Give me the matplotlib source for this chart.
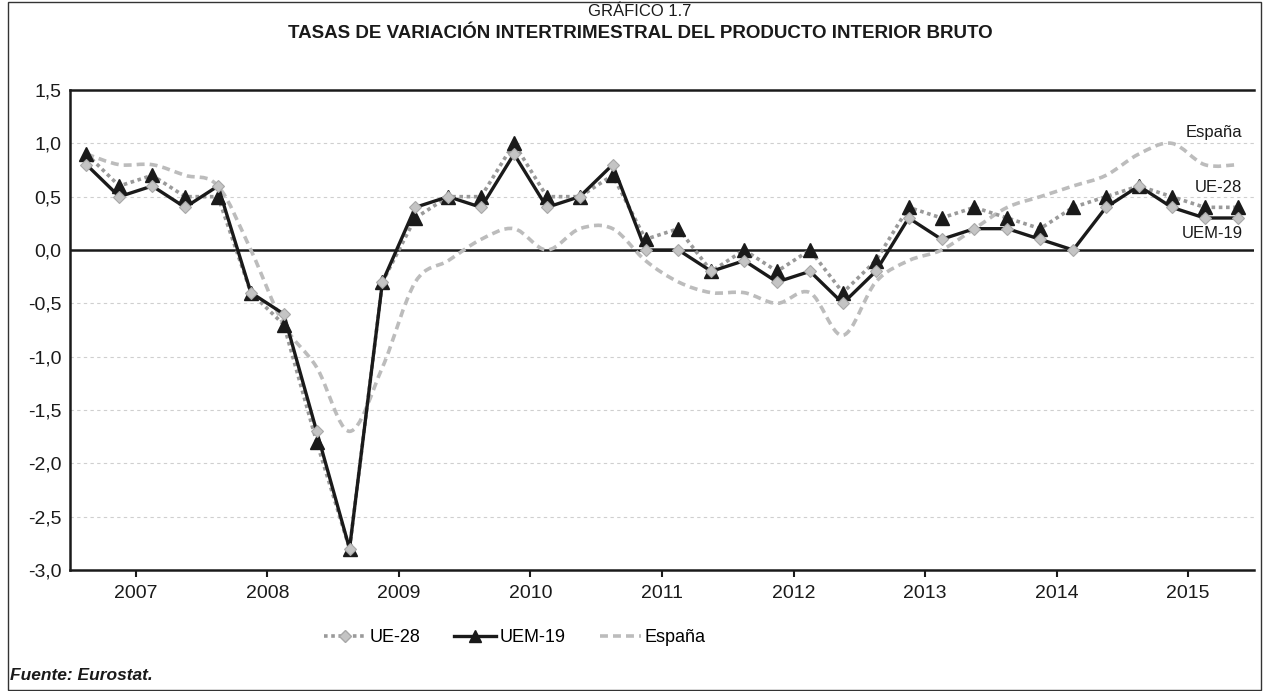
import numpy as np
import matplotlib
matplotlib.use("Agg")
import matplotlib.pyplot as plt
from matplotlib.path import Path
from matplotlib.patches import PathPatch, Rectangle
from matplotlib.lines import Line2D
from matplotlib.ticker import FuncFormatter, MultipleLocator

plt.rcParams['font.family'] = ['Liberation Sans', 'DejaVu Sans']

years = ['2007', '2008', '2009', '2010', '2011', '2012', '2013', '2014', '2015']

# diamond markers (UE-28)
ue28 = [0.8, 0.5, 0.6, 0.4, 0.6, -0.4, -0.6, -1.7,
        -2.8, -0.3, 0.4, 0.5, 0.4, 0.9, 0.4, 0.5,
        0.8, 0.0, 0.0, -0.2, -0.1, -0.3, -0.2, -0.5,
        -0.2, 0.3, 0.1, 0.2, 0.2, 0.1, 0.0, 0.4,
        0.6, 0.4, 0.3, 0.3]
# triangle markers (UEM-19)
uem19 = [0.9, 0.6, 0.7, 0.5, 0.5, -0.4, -0.7, -1.8,
         -2.8, -0.3, 0.3, 0.5, 0.5, 1.0, 0.5, 0.5,
         0.7, 0.1, 0.2, -0.2, 0.0, -0.2, 0.0, -0.4,
         -0.1, 0.4, 0.3, 0.4, 0.3, 0.2, 0.4, 0.5,
         0.6, 0.5, 0.4, 0.4]
espana = [0.9, 0.8, 0.8, 0.7, 0.6, 0.0, -0.7, -1.1,
          -1.7, -1.1, -0.3, -0.1, 0.1, 0.2, 0.0, 0.2,
          0.2, -0.1, -0.3, -0.4, -0.4, -0.5, -0.4, -0.8,
          -0.3, -0.1, 0.0, 0.2, 0.4, 0.5, 0.6, 0.7,
          0.9, 1.0, 0.8, 0.8]

W, H = 1268, 691
fig = plt.figure(figsize=(W / 100, H / 100), dpi=100)
ax = fig.add_axes([70 / W, 1 - 570 / H, (1254 - 70) / W, (570 - 90) / H])

x = np.arange(len(ue28))

GRAY_DOT = '#9a9a9a'
GRAY_DASH = '#bcbcbc'
BLACK = '#1a1a1a'

# España smoothed line (Catmull-Rom -> cubic Bezier)
pts = np.column_stack([x, espana]).astype(float)
verts = [tuple(pts[0])]
codes = [Path.MOVETO]
n = len(pts)
for i in range(n - 1):
    p0 = pts[i - 1] if i > 0 else pts[i]
    p1 = pts[i]
    p2 = pts[i + 1]
    p3 = pts[i + 2] if i + 2 < n else pts[i + 1]
    c1 = p1 + (p2 - p0) / 6.0
    c2 = p2 - (p3 - p1) / 6.0
    verts += [tuple(c1), tuple(c2), tuple(p2)]
    codes += [Path.CURVE4] * 3
esp_patch = PathPatch(Path(verts, codes), fill=False, edgecolor=GRAY_DASH,
                      lw=2.6, linestyle=(0, (2.2, 1.4)), capstyle='butt', zorder=3)
ax.add_patch(esp_patch)

ax.plot(x, uem19, color=GRAY_DOT, lw=2.6, linestyle=(0, (1, 1)),
        dash_capstyle='butt', zorder=4)
ax.plot(x, ue28, color=BLACK, lw=2.4, zorder=5, solid_joinstyle='miter')
ax.plot(x, uem19, linestyle='none', marker='^', ms=10, color=BLACK, zorder=6)
ax.plot(x, ue28, linestyle='none', marker='D', ms=6.5, markerfacecolor='#c4c4c4',
        markeredgecolor='#a8a8a8', markeredgewidth=0.8, zorder=7)

ax.axhline(0, color=BLACK, lw=1.8, zorder=2)

ax.set_xlim(-0.5, len(ue28) - 0.5)
ax.set_ylim(-3.0, 1.5)
ax.yaxis.set_major_locator(MultipleLocator(0.5))
ax.yaxis.set_major_formatter(FuncFormatter(lambda v, p: f"{v:.1f}".replace('.', ',')))
ax.set_xticks([1.5 + 4 * k for k in range(len(years))])
ax.set_xticklabels(years)
ax.grid(axis='y', color='#cfcfcf', linestyle=(0, (3, 3)), lw=0.8)
ax.set_axisbelow(True)

for s in ['top', 'left', 'bottom']:
    ax.spines[s].set_linewidth(1.8)
    ax.spines[s].set_color(BLACK)
ax.spines['right'].set_visible(False)
ax.tick_params(axis='y', length=0, pad=6, labelsize=14, colors=BLACK)
ax.tick_params(axis='x', length=5, width=1.5, pad=6, labelsize=14, colors=BLACK)

ax.text(35.15, 1.10, 'España', ha='right', va='center', fontsize=12, color=BLACK)
ax.text(35.15, 0.59, 'UE-28', ha='right', va='center', fontsize=12, color=BLACK)
ax.text(35.15, 0.15, 'UEM-19', ha='right', va='center', fontsize=12, color=BLACK)

fig.text(640 / W, 1 - 12 / H, 'GRÁFICO 1.7', ha='center', va='center', fontsize=12,
         color=BLACK)
fig.text(640 / W, 1 - 33 / H, 'TASAS DE VARIACIÓN INTERTRIMESTRAL DEL PRODUCTO INTERIOR BRUTO',
         ha='center', va='center', fontsize=13.5, fontweight='bold', color=BLACK)
fig.text(10 / W, 1 - 676 / H, 'Fuente: Eurostat.', ha='left', va='center', fontsize=12.5,
         fontweight='bold', fontstyle='italic', color=BLACK)

handles = [
    Line2D([], [], color=GRAY_DOT, lw=2.6, linestyle=(0, (1, 1)), marker='D', ms=6.5,
           markerfacecolor='#c4c4c4', markeredgecolor='#a8a8a8'),
    Line2D([], [], color=BLACK, lw=2.4, marker='^', ms=9),
    Line2D([], [], color=GRAY_DASH, lw=2.6, linestyle=(0, (2.2, 1.4))),
]
fig.legend(handles, ['UE-28', 'UEM-19', 'España'], loc='center',
           bbox_to_anchor=(515 / W, 1 - 638 / H), ncol=3, frameon=False,
           fontsize=13, handlelength=2.3, columnspacing=1.9, handletextpad=0.2)

fig.add_artist(Rectangle((8 / W, 1 / H), (1261 - 8) / W, (689 - 1) / H,
                         transform=fig.transFigure, fill=False, edgecolor='#333333', lw=1))

fig.savefig('out.png', dpi=100)
